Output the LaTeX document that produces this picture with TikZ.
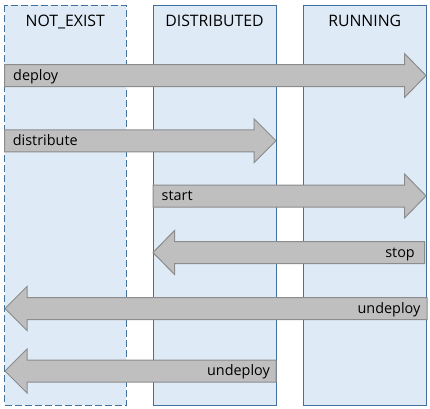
\documentclass[tikz,border=0pt]{standalone}
\usepackage{fontspec}
\setmainfont{Open Sans}
\definecolor{colfill}{HTML}{DEEAF6}
\definecolor{colline}{HTML}{41719C}
\definecolor{arrfill}{HTML}{BFBFBF}
\definecolor{arrline}{HTML}{8C8C8C}
\tikzset{
  column/.style={draw=colline, fill=colfill, line width=1pt},
  arrowshape/.style={draw=arrline, fill=arrfill, line width=1pt, line join=miter},
  header/.style={font=\fontsize{15.8}{18}\selectfont, inner sep=0pt, anchor=base},
  label/.style={font=\fontsize{14.4}{17}\selectfont, inner sep=0pt, text=black},
}
\begin{document}
\begin{tikzpicture}[x=1pt,y=-1pt]
\useasboundingbox (0,0) rectangle (430,408);
% columns
\draw[column, dash pattern=on 7pt off 3pt] (4.5,5) rectangle (126,405);
\draw[column] (153,5) rectangle (276,405);
\draw[column] (303.5,5) rectangle (426,405);
\node[header] (h1) at (65.25,26.5) {NOT\_EXIST};
\node[header] (h2) at (214.5,26.5) {DISTRIBUTED};
\node[header] (h3) at (364.75,26.5) {RUNNING};
% deploy
\draw[arrowshape] (4.5,64.5) -- (404.5,64.5) -- (404.5,53.5) -- (426,75.5) -- (404.5,97.5) -- (404.5,86.5) -- (4.5,86.5) -- cycle;
\node[label, anchor=base west] (l1) at (13,80.3) {deploy};
% distribute
\draw[arrowshape] (4.5,129.75) -- (254,129.75) -- (254,118.75) -- (276,140.75) -- (254,162.75) -- (254,151.75) -- (4.5,151.75) -- cycle;
\node[label, anchor=base west] (l2) at (12.7,145.4) {distribute};
% start
\draw[arrowshape] (153,185) -- (404.5,185) -- (404.5,174) -- (426,196) -- (404.5,218) -- (404.5,207) -- (153,207) -- cycle;
\node[label, anchor=base west] (l3) at (161.5,200.7) {start};
% stop
\draw[arrowshape] (424.5,241.5) -- (174.5,241.5) -- (174.5,230.5) -- (153,252.5) -- (174.5,274.5) -- (174.5,263.5) -- (424.5,263.5) -- cycle;
\node[label, anchor=base east] (l4) at (415,257.2) {stop};
% undeploy 1
\draw[arrowshape] (427,297.5) -- (27,297.5) -- (27,286.5) -- (5,308.5) -- (27,330.5) -- (27,319.5) -- (427,319.5) -- cycle;
\node[label, anchor=base east] (l5) at (420.5,313.2) {undeploy};
% undeploy 2
\draw[arrowshape] (276,360) -- (27,360) -- (27,349) -- (5,371) -- (27,393) -- (27,382) -- (276,382) -- cycle;
\node[label, anchor=base east] (l6) at (270,375.7) {undeploy};
\end{tikzpicture}
\end{document}
